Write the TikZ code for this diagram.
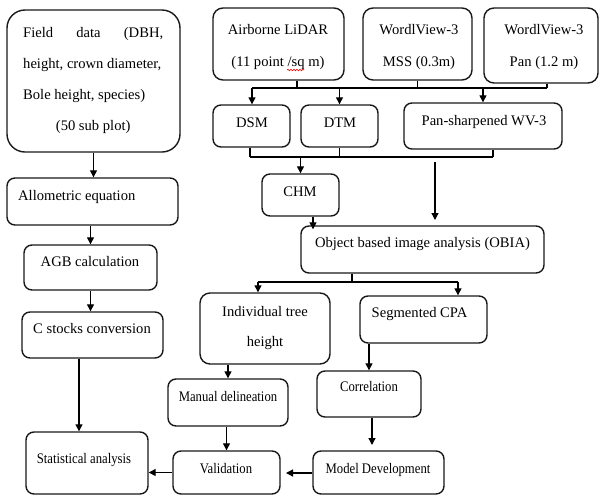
\documentclass[tikz,border=0pt]{standalone}
\usepackage{fontspec}
\setmainfont{Liberation Serif}
\usetikzlibrary{arrows.meta,calc,decorations.pathmorphing}
\tikzset{
  box/.style={draw=black!90, line width=1.4pt, rounded corners=8pt, inner sep=0pt},
  txt/.style={inner sep=0pt, font=\fontsize{14.6}{31}\selectfont, text height=10pt, text depth=3pt, align=center},
  mtxt/.style={inner sep=0pt, font=\fontsize{14.6}{32}\selectfont, align=center},
  arr/.style={line width=1.3pt, -{Triangle[length=7pt,width=7pt]}},
  ln/.style={line width=1.3pt}
}
\newcommand{\bx}[6][]{%
  \pgfmathsetmacro{\bw}{#5-#3}\pgfmathsetmacro{\bh}{#6-#4}%
  \pgfmathsetmacro{\bcx}{(#3+#5)/2}\pgfmathsetmacro{\bcy}{(#4+#6)/2}%
  \node[box, minimum width=\bw pt, minimum height=\bh pt, #1] (#2) at (\bcx,\bcy) {};}
\newcommand{\nar}[1]{\scalebox{0.87}[1]{#1}}
\begin{document}
\begin{tikzpicture}[x=1pt,y=-1pt]
\useasboundingbox (0,0) rectangle (600,496);
% boxes
\bx[rounded corners=18pt]{field}{7}{10}{180}{152}
\bx{allo}{7}{178}{178}{225}
\bx{agb}{24}{245}{157}{290}
\bx{cst}{22}{312}{163}{358}
\bx{stat}{26}{432}{148}{494}
\bx[rounded corners=10pt]{lidar}{213}{8}{344}{80}
\bx[rounded corners=10pt]{mss}{363}{8}{472}{80}
\bx[rounded corners=10pt]{pan}{484}{8}{598}{83}
\bx{dsm}{213}{105}{290}{147}
\bx{dtm}{301}{105}{378}{147}
\bx{pansh}{404}{103}{562}{149}
\bx{chm}{262}{174}{339}{216}
\bx{obia}{301}{226}{544}{273}
\bx[rounded corners=10pt]{ind}{200}{293}{330}{364}
\bx{seg}{360}{296}{487}{343}
\bx{man}{168}{379}{288}{426}
\bx{val}{173}{451}{280}{494}
\bx{cor}{317}{371}{421}{417}
\bx{mod}{313}{451}{444}{494}
% texts
\node[mtxt, font=\fontsize{14.6}{31}\selectfont, align=left, anchor=north west] (tfield) at (23,27) {\makebox[140pt][s]{Field data (DBH,}\\height, crown diameter,\\Bole height, species)\\\makebox[140pt]{(50 sub plot)}};
\node[txt, anchor=west] (tallo) at (18,197) {Allometric equation};
\node[txt] (tagb) at (90,263) {AGB calculation};
\node[txt] (tcst) at (92,330) {C stocks conversion};
\node[txt] (tstat) at (84,460) {\nar{Statistical analysis}};
\node[mtxt] (tlidar) at (278,47) {Airborne LiDAR\\(11 point /sq m)};
\node[mtxt] (tmss) at (419,47) {WordlView-3\\MSS (0.3m)};
\node[mtxt] (tpan) at (544,47) {WordlView-3\\Pan (1.2 m)};
\node[txt] (tdsm) at (252,124) {DSM};
\node[txt] (tdtm) at (340,124) {DTM};
\node[txt] (tpansh) at (484,122) {Pan-sharpened WV-3};
\node[txt] (tchm) at (300,193) {CHM};
\node[txt] (tobia) at (422.5,244) {Object based image analysis (OBIA)};
\node[mtxt, font=\fontsize{14.6}{30}\selectfont] (tind) at (265,328) {Individual tree\\height};
\node[txt] (tseg) at (419.5,314) {Segmented CPA};
\node[txt] (tman) at (228,398) {\nar{Manual delineation}};
\node[txt] (tval) at (226,470) {\nar{Validation}};
\node[txt] (tcor) at (369,388) {\nar{Correlation}};
\node[txt] (tmod) at (378,470) {\nar{Model Development}};
% spell-check underline
\draw[red, line width=0.6pt, decorate, decoration={snake, amplitude=0.8pt, segment length=3pt}] (287,70) -- (304,70);
% left column
\draw[arr] (field.south) -- (field.south |- allo.north);
\draw[arr] (agb.north |- allo.south) -- (agb.north);
\draw[arr] (agb.south) -- (agb.south |- cst.north);
\draw[arr] ([xshift=-13.5pt]cst.south) -- ([xshift=-13.5pt]cst.south |- stat.north);
% top bus
\coordinate (b1l) at (252,88);
\coordinate (b1r) at (547,88);
\draw[ln] ([xshift=18.5pt]lidar.south) -- ([xshift=18.5pt]lidar.south |- b1l);
\draw[ln] (mss.south) -- (mss.south |- b1l);
\draw[ln] ([xshift=6pt]pan.south) -- ([xshift=6pt]pan.south |- b1l);
\draw[ln] (b1l) -- (b1r);
\draw[arr] (b1l) -- (b1l |- dsm.north);
\draw[arr] (dtm.north |- b1l) -- (dtm.north);
\draw[arr] (pansh.north |- b1l) -- (pansh.north);
% second bus
\coordinate (b2l) at (250,157);
\coordinate (b2r) at (493,157);
\draw[ln] (dsm.south -| b2l) -- (b2l);
\draw[ln] (dtm.south) -- (dtm.south |- b2l);
\draw[ln] (pansh.south -| b2r) -- (b2r);
\draw[ln] (b2l) -- (b2r);
\draw[arr] (chm.north |- b2l) -- (chm.north);
\coordinate (fa1) at (435,162);
\coordinate (fa2) at (435,220);
\draw[arr] (fa1) -- (fa2);
\draw[arr] ([xshift=12.5pt]chm.south) -- ([xshift=12.5pt,yshift=-4pt]chm.south |- obia.north);
% OBIA bus
\coordinate (b3) at (352,282);
\coordinate (b3l) at (258,282);
\coordinate (b3r) at (458,282);
\draw[ln] (obia.south -| b3) -- (b3);
\draw[ln] (b3l) -- (b3r);
\draw[arr] (b3l) -- (b3l |- ind.north);
\draw[arr] (b3r) -- (b3r |- seg.north);
% lower part
\draw[arr] (man.north |- ind.south) -- (man.north);
\draw[arr] (val.north |- man.south) -- (val.north);
\draw[arr] (cor.north |- seg.south) -- (cor.north);
\coordinate (mfree) at (372,445);
\draw[arr] (cor.south -| mfree) -- (mfree);
\coordinate (vfree) at (286,473);
\draw[arr] (mod.west |- vfree) -- (vfree);
\draw[arr] (val.west) -- (val.west -| stat.east);
\end{tikzpicture}
\end{document}
